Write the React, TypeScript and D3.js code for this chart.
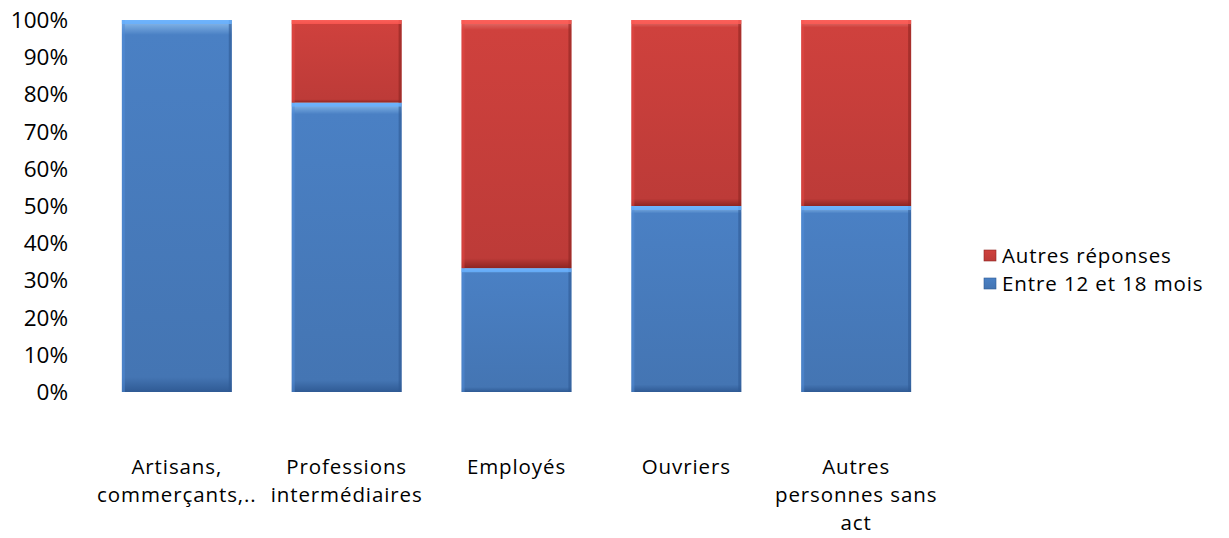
import React, { useEffect, useRef } from "react";
import * as d3 from "d3";

const categories = [
  ["Artisans,", "commerçants,.."],
  ["Professions", "intermédiaires"],
  ["Employés"],
  ["Ouvriers"],
  ["Autres", "personnes sans", "act"],
];
const entre12et18 = [100, 77.8, 33.3, 50, 50];
const autresReponses = [0, 22.2, 66.7, 50, 50];
const yTicks = [0, 10, 20, 30, 40, 50, 60, 70, 80, 90, 100];

const App: React.FC = () => {
  const svgRef = useRef<SVGSVGElement | null>(null);

  useEffect(() => {
    const width = 1229;
    const height = 538;
    const top = 20;
    const bottom = 392;
    const font = "'Open Sans', sans-serif";

    const svg = d3.select(svgRef.current).attr("width", width).attr("height", height);
    svg.selectAll("*").remove();

    const defs = svg.append("defs");
    const mkGrad = (id: string, light: string, mid: string, dark: string) => {
      const g = defs.append("linearGradient").attr("id", id).attr("x1", 0).attr("x2", 0).attr("y1", 0).attr("y2", 1);
      g.append("stop").attr("offset", "0%").attr("stop-color", light);
      g.append("stop").attr("offset", "4%").attr("stop-color", mid);
      g.append("stop").attr("offset", "96%").attr("stop-color", d3.color(mid)!.darker(0.25).toString());
      g.append("stop").attr("offset", "100%").attr("stop-color", dark);
    };
    mkGrad("blueG", "#8fc0ef", "#4a80c4", "#2f5a94");
    mkGrad("redG", "#e87a75", "#cf413d", "#8e2522");

    const x = d3.scaleBand<number>()
      .domain(categories.map((_, i) => i))
      .range([92, 941])
      .paddingInner(0.353)
      .paddingOuter(0.176);

    const y = d3.scaleLinear().domain([0, 100]).range([bottom, top]);

    // y labels
    svg.append("g")
      .selectAll("text")
      .data(yTicks)
      .join("text")
      .attr("x", 68)
      .attr("y", (d) => y(d) + 8)
      .attr("text-anchor", "end")
      .attr("font-family", font)
      .attr("font-size", 22.5)
      .attr("fill", "#000")
      .text((d) => `${d}%`);

    const series = [
      { name: "Entre 12 et 18 mois", values: entre12et18, grad: "url(#blueG)", edge: "#2f5a94", base: "#4a80c4" },
      { name: "Autres réponses", values: autresReponses, grad: "url(#redG)", edge: "#8e2522", base: "#cf413d" },
    ];

    const bw = x.bandwidth();
    categories.forEach((_, i) => {
      let acc = 0;
      series.forEach((s) => {
        const v = s.values[i];
        if (v <= 0) return;
        const y0 = y(acc);
        const y1 = y(acc + v);
        acc += v;
        const g = svg.append("g");
        const x0 = x(i)!;
        g.append("rect")
          .attr("x", x0)
          .attr("y", y1)
          .attr("width", bw)
          .attr("height", y0 - y1)
          .attr("fill", s.grad);
        // side bevels
        g.append("rect").attr("x", x0).attr("y", y1).attr("width", 3).attr("height", y0 - y1)
          .attr("fill", d3.color(s.base)!.brighter(0.3).toString()).attr("opacity", 0.5);
        g.append("rect").attr("x", x0 + bw - 3).attr("y", y1).attr("width", 3).attr("height", y0 - y1)
          .attr("fill", s.edge).attr("opacity", 0.6);
        g.append("rect").attr("x", x0).attr("y", y1).attr("width", bw).attr("height", 4)
          .attr("fill", d3.color(s.base)!.brighter(0.9).toString()).attr("opacity", 0.8);
      });
    });

    // category labels
    categories.forEach((lines, i) => {
      const cx = x(i)! + bw / 2;
      lines.forEach((ln, k) => {
        svg.append("text")
          .attr("x", cx)
          .attr("y", 474 + k * 28)
          .attr("text-anchor", "middle")
          .attr("font-family", font)
          .attr("font-size", 20.5)
          .attr("letter-spacing", 0.9)
          .attr("fill", "#000")
          .text(ln);
      });
    });

    // legend
    const legend = [series[1], series[0]];
    legend.forEach((s, k) => {
      const ly = 256 + k * 28;
      svg.append("rect").attr("x", 984).attr("y", ly - 6).attr("width", 12).attr("height", 11)
        .attr("fill", s.grad).attr("stroke", s.edge).attr("stroke-width", 0.6);
      svg.append("text")
        .attr("x", 1002)
        .attr("y", ly + 7)
        .attr("font-family", font)
        .attr("font-size", 20.5)
        .attr("letter-spacing", 0.9)
        .attr("fill", "#000")
        .text(s.name);
    });
  }, []);

  return <svg ref={svgRef} style={{ position: "absolute", left: 0, top: 0 }}></svg>;
};

export default App;
